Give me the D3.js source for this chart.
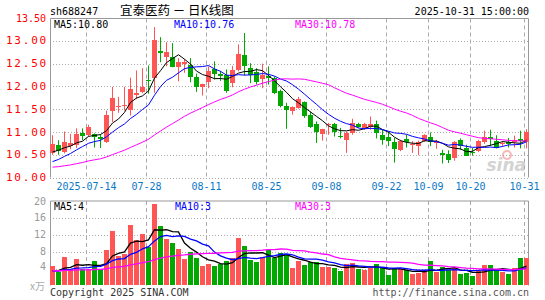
<!DOCTYPE html>
<html><head><meta charset="utf-8">
<script src="https://cdn.jsdelivr.net/npm/d3@7"></script>
<style>body{margin:0;background:#fff}svg{display:block}</style>
</head><body><svg id="c" width="545" height="300"></svg>
<script>
// ---------- DATA ----------
const dates = [
 "2025-07-04","2025-07-07","2025-07-08","2025-07-09","2025-07-10","2025-07-11",
 "2025-07-14","2025-07-15","2025-07-16","2025-07-17","2025-07-18",
 "2025-07-21","2025-07-22","2025-07-23","2025-07-24","2025-07-25",
 "2025-07-28","2025-07-29","2025-07-30","2025-07-31","2025-08-01",
 "2025-08-04","2025-08-05","2025-08-06","2025-08-07","2025-08-08",
 "2025-08-11","2025-08-12","2025-08-13","2025-08-14","2025-08-15",
 "2025-08-18","2025-08-19","2025-08-20","2025-08-21","2025-08-22",
 "2025-08-25","2025-08-26","2025-08-27","2025-08-28","2025-08-29",
 "2025-09-01","2025-09-02","2025-09-03","2025-09-04","2025-09-05",
 "2025-09-08","2025-09-09","2025-09-10","2025-09-11","2025-09-12",
 "2025-09-15","2025-09-16","2025-09-17","2025-09-18","2025-09-19",
 "2025-09-22","2025-09-23","2025-09-24","2025-09-25","2025-09-26",
 "2025-09-29","2025-09-30","2025-10-09","2025-10-10",
 "2025-10-13","2025-10-14","2025-10-15","2025-10-16","2025-10-17",
 "2025-10-20","2025-10-21","2025-10-22","2025-10-23","2025-10-24",
 "2025-10-27","2025-10-28","2025-10-29","2025-10-30","2025-10-31"];
const open  = [10.55,10.72,10.57,10.70,10.71,10.97,10.93,10.95,10.89,10.78,
 11.46,11.55,11.56,11.48,11.81,11.88,12.14,12.18,12.77,12.64,
 12.65,12.43,12.49,12.48,12.21,11.98,12.10,12.38,12.28,12.26,
 12.08,12.35,12.68,12.40,12.31,12.17,12.22,12.18,11.89,11.58,
 11.45,11.53,11.66,11.38,11.18,10.96,11.15,11.18,10.92,10.83,
 10.98,11.18,11.09,11.10,11.18,10.94,10.89,10.78,10.61,10.85,
 10.72,10.69,10.80,10.90,10.76,10.55,10.52,10.44,10.83,10.66,
 10.57,10.58,10.77,10.89,10.80,10.73,10.78,10.77,10.85,10.79];
const high  = [10.93,10.82,11.01,10.96,11.08,11.08,11.16,10.97,10.95,11.47,
 11.99,11.77,11.99,12.19,12.35,12.40,12.46,13.30,13.08,12.97,
 12.95,12.62,12.60,12.62,12.28,12.06,12.44,12.55,12.34,12.37,
 12.45,12.92,13.17,12.51,12.40,12.50,12.44,12.22,11.93,11.64,
 11.56,11.77,11.67,11.45,11.23,11.07,11.20,11.20,11.09,11.01,
 11.29,11.20,11.20,11.34,11.25,11.05,11.01,10.87,10.83,10.94,
 10.80,10.81,10.95,10.99,10.83,10.61,10.60,10.80,10.86,10.72,
 10.65,10.83,11.03,11.05,10.93,10.79,10.87,10.92,11.03,11.06];
const low   = [10.50,10.50,10.53,10.62,10.65,10.82,10.90,10.66,10.65,10.76,
 11.22,11.42,11.47,11.36,11.72,11.85,11.84,11.86,12.53,12.44,
 12.42,12.11,12.30,12.09,11.88,11.80,11.96,12.15,12.12,11.86,
 11.98,12.33,12.24,12.07,12.04,11.96,12.04,11.83,11.54,11.07,
 11.38,11.51,11.31,11.09,10.76,10.81,10.94,10.90,10.86,10.54,
 10.94,11.09,11.05,11.05,10.86,10.72,10.69,10.33,10.58,10.66,
 10.54,10.49,10.78,10.69,10.63,10.31,10.32,10.37,10.61,10.48,
 10.48,10.56,10.74,10.69,10.64,10.68,10.66,10.66,10.64,10.64];
const close = [10.73,10.59,10.78,10.75,10.96,10.91,11.12,10.88,10.85,11.38,
 11.75,11.57,11.60,11.94,11.86,11.99,12.11,13.02,12.74,12.75,
 12.43,12.53,12.53,12.21,11.98,12.05,12.34,12.27,12.22,11.91,
 12.35,12.71,12.44,12.24,12.10,12.24,12.18,11.86,11.58,11.49,
 11.54,11.73,11.34,11.10,11.00,11.07,11.17,11.01,10.90,10.98,
 11.20,11.10,11.18,11.18,10.98,10.83,10.81,10.63,10.81,10.78,
 10.74,10.78,10.93,10.77,10.79,10.49,10.39,10.78,10.70,10.48,
 10.53,10.80,10.89,10.85,10.66,10.75,10.73,10.82,10.80,11.01];
const volume = [4.6,3.2,6.7,4.0,6.2,3.8,4.0,5.8,3.8,8.4,
 12.9,7.0,7.5,14.4,10.75,12.25,9.1,19.4,14.1,11.1,
 10.1,8.7,6.2,8.0,6.4,4.6,5.1,4.6,5.1,5.7,
 6.4,11.2,9.3,6.0,5.5,6.7,8.3,6.4,7.7,7.4,
 4.1,5.8,4.8,5.5,5.5,4.3,4.3,4.1,3.4,5.1,
 5.3,3.9,3.6,4.1,5.1,4.1,2.5,3.9,3.9,3.6,
 2.7,2.9,3.1,5.8,3.2,4.3,3.6,4.2,2.7,2.9,
 2.2,3.4,4.8,4.8,3.6,3.2,2.7,4.1,6.5,6.5];
// history before the visible window (estimated from where the MA lines start)
const priorCloses = [10.25,10.22,10.18,10.15,10.12,10.10,10.13,10.16,10.20,10.18,
 10.15,10.12,10.14,10.17,10.20,10.22,10.19,10.16,10.14,10.18,
 10.12,10.10,10.13,10.16,10.19,10.40,10.50,10.58,10.60];
const priorVolumes = [3.2,3.8,3.5,3.1,3.6,4.0,3.3,3.4,3.7,3.2,
 3.5,3.9,3.6,3.3,3.1,3.4,3.8,3.5,3.2,3.6,
 3.4,3.7,3.3,3.0,3.5,3.2,3.6,3.1,2.9];
const tickDates  = ["2025-07-14","2025-07-28","2025-08-11","2025-08-25","2025-09-08","2025-09-22","2025-10-09","2025-10-20","2025-10-31"];
const tickLabels = ["2025-07-14","07-28","08-11","08-25","09-08","09-22","10-09","10-20","10-31"];
const priceTicks = [10.00,10.50,11.00,11.50,12.00,12.50,13.00,13.50];
const volTicks = [4,8,12,16,20];
const maPeriods = [5,10,30];
const maColors = ["#000000","#0000ff","#ff00ff"];
const priceMaLabels = ["MA5:10.80","MA10:10.76","MA30:10.78"];
const volMaLabels = ["MA5:4","MA10:3","MA30:3"];
const titleCode = "sh688247";
const titleName = "宜泰医药 － 日K线图";
const titleTime = "2025-10-31 15:00:00";

// ---------- CHART ----------
const svg = d3.select("#c");
const MONO = "'DejaVu Sans Mono', monospace";
const RED = "#ff5555", GREEN = "#00a800", GRID = "#aaaaaa", BORDER = "#999999";
const L = 50, R = 529, PT = 18.5, PB = 177.5, VT = 201, VB = 285.5;

const x = d3.scaleBand().domain(d3.range(dates.length)).range([49.5, 529.5]).padding(0);
const cx = i => x(i) + x.bandwidth() / 2;
const yP = d3.scaleLinear().domain([10, 13.5]).range([177.6, 18]);
const yV = d3.scaleLinear().domain([0, 20]).range([285.4, 201]);

function ma(series, prior, n) {
  const all = prior.concat(series), off = prior.length;
  return series.map((_, i) => {
    const end = off + i, start = Math.max(0, end - n + 1);
    return d3.mean(all.slice(start, end + 1));
  });
}

// horizontal dotted grid
svg.append("g").selectAll("line").data(priceTicks.filter(t => t < 13.5)).join("line")
  .attr("x1", L).attr("x2", R).attr("y1", d => Math.round(yP(d)) + 0.5).attr("y2", d => Math.round(yP(d)) + 0.5)
  .attr("stroke", GRID).attr("stroke-dasharray", "1,2");
svg.append("g").selectAll("line").data(volTicks.filter(t => t < 20)).join("line")
  .attr("x1", L).attr("x2", R).attr("y1", d => Math.round(yV(d)) + 0.5).attr("y2", d => Math.round(yV(d)) + 0.5)
  .attr("stroke", GRID).attr("stroke-dasharray", "1,2");

// vertical dashed grid
const tickIdx = tickDates.map(d => dates.indexOf(d));
[[PT, PB], [VT, VB]].forEach(([t, b]) => {
  svg.append("g").selectAll("line").data(tickIdx).join("line")
    .attr("x1", i => Math.round(x(i)) + 0.5).attr("x2", i => Math.round(x(i)) + 0.5)
    .attr("y1", t).attr("y2", b)
    .attr("stroke", GRID).attr("stroke-dasharray", "4,3");
});

// borders
[[PT, PB], [VT, VB]].forEach(([t, b]) => {
  svg.append("path").attr("d", `M${L + 0.5},${b}V${t}H${R - 0.5}V${b}`)
    .attr("fill", "none").attr("stroke", BORDER).attr("stroke-width", 1);
});

// sina watermark
const wm = svg.append("g").attr("opacity", 0.55);
wm.append("circle").attr("cx", 507).attr("cy", 155).attr("r", 4).attr("fill", "none").attr("stroke", "#f08080").attr("stroke-width", 2);
wm.append("text").attr("x", 526).attr("y", 171).attr("text-anchor", "end")
  .attr("font-family", "'DejaVu Sans', sans-serif").attr("font-weight", "bold").attr("font-style", "italic")
  .attr("font-size", 17).attr("fill", "#b0b0b0").text("sina");

// candles
const up = i => close[i] >= open[i];
const cg = svg.append("g");
d3.range(dates.length).forEach(i => {
  const col = up(i) ? RED : GREEN;
  const xc = Math.floor(cx(i)) + 0.5;
  cg.append("line").attr("x1", xc).attr("x2", xc)
    .attr("y1", yP(high[i])).attr("y2", yP(low[i])).attr("stroke", col).attr("stroke-width", 1);
  const top = yP(Math.max(open[i], close[i])), bot = yP(Math.min(open[i], close[i]));
  cg.append("rect").attr("x", Math.floor(cx(i)) - 2).attr("width", 5)
    .attr("y", Math.round(top)).attr("height", Math.max(1, Math.round(bot) - Math.round(top)))
    .attr("fill", col);
});

// volume bars
svg.append("g").selectAll("rect").data(volume).join("rect")
  .attr("x", (d, i) => Math.floor(cx(i)) - 2).attr("width", 5)
  .attr("y", d => Math.round(yV(d))).attr("height", d => Math.round(yV(0)) - Math.round(yV(d)))
  .attr("fill", (d, i) => up(i) ? RED : GREEN);

// MA lines
maPeriods.forEach((n, k) => {
  const pm = ma(close, priorCloses, n);
  const vm = ma(volume, priorVolumes, n);
  svg.append("path").attr("d", d3.line().x((d, i) => cx(i)).y(d => yP(d))(pm))
    .attr("fill", "none").attr("stroke", maColors[k]).attr("stroke-width", 1);
  svg.append("path").attr("d", d3.line().x((d, i) => cx(i)).y(d => yV(d))(vm))
    .attr("fill", "none").attr("stroke", maColors[k]).attr("stroke-width", 1.3);
});

// axis labels
svg.append("g").selectAll("text").data(priceTicks).join("text")
  .attr("x", d => d === 13.5 ? 46 : 48).attr("y", d => yP(d) + 3.5).attr("text-anchor", "end")
  .attr("font-family", MONO).attr("font-size", d => d === 13.5 ? 10 : 11)
  .attr("letter-spacing", d => d === 13.5 ? 0 : 1.8)
  .attr("fill", "#ff0000").text(d => d.toFixed(2));
svg.append("g").selectAll("text").data(volTicks).join("text")
  .attr("x", 46).attr("y", d => yV(d) + 3.5 - (d === 4 ? 2 : 0)).attr("text-anchor", "end")
  .attr("font-family", MONO).attr("font-size", 10).attr("fill", "#999999").text(d => d);
svg.append("text").attr("x", 45).attr("y", 290).attr("text-anchor", "end")
  .attr("font-family", "'Noto Sans CJK SC', sans-serif").attr("font-size", 10).attr("fill", "#aaaaaa").text("x万");

svg.append("g").selectAll("text").data(tickIdx).join("text")
  .attr("x", i => Math.round(x(i)) + 0.5).attr("y", 189.5).attr("text-anchor", "middle")
  .attr("font-family", MONO).attr("font-size", 10).attr("fill", "#0a78c8")
  .text((d, k) => tickLabels[k]);

// MA legends
const pmx = [54, 174, 295], vmx = [54, 175, 295];
priceMaLabels.forEach((t, k) => svg.append("text").attr("x", pmx[k]).attr("y", 27.5)
  .attr("font-family", MONO).attr("font-size", 10).attr("fill", maColors[k]).text(t));
volMaLabels.forEach((t, k) => svg.append("text").attr("x", vmx[k]).attr("y", 209.5)
  .attr("font-family", MONO).attr("font-size", 10).attr("fill", maColors[k]).text(t));

// header
svg.append("text").attr("x", 50).attr("y", 15).attr("font-family", MONO).attr("font-size", 10)
  .attr("fill", "#000").text(titleCode);
svg.append("text").attr("x", 120).attr("y", 14.5).attr("font-family", "'Noto Sans CJK SC', sans-serif")
  .attr("font-size", 12.5).attr("fill", "#000").text(titleName);
svg.append("text").attr("x", 529).attr("y", 15).attr("text-anchor", "end").attr("font-family", MONO)
  .attr("font-size", 10).attr("fill", "#000").text(titleTime);

// footer
svg.append("text").attr("x", 50).attr("y", 296).attr("font-family", MONO).attr("font-size", 10)
  .attr("fill", "#333").text("Copyright 2025 SINA.COM");
svg.append("text").attr("x", 529).attr("y", 296).attr("text-anchor", "end").attr("font-family", MONO)
  .attr("font-size", 10).attr("fill", "#555").text("http://finance.sina.com.cn");
</script></body></html>
